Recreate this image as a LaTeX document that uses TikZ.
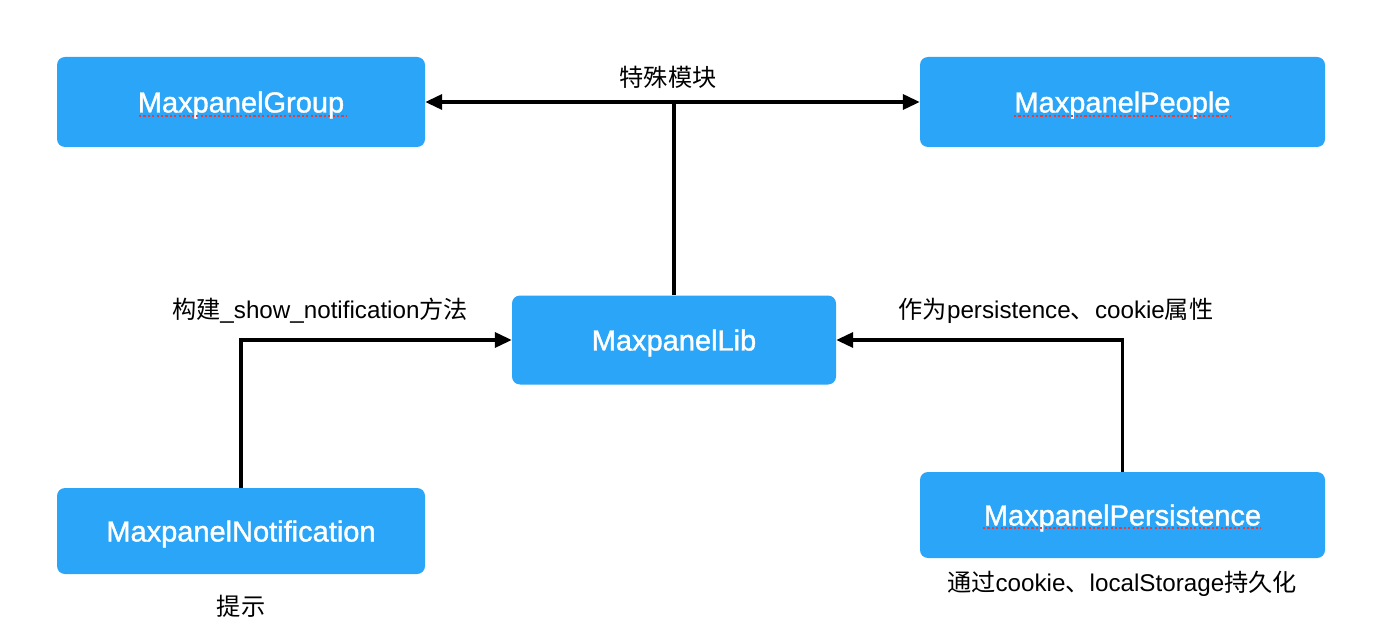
\documentclass[tikz,border=0pt]{standalone}
\usepackage{fontspec}
\setmainfont{Liberation Sans}
\newfontfamily\medfont[FakeBold=1.3]{Liberation Sans}
\newfontfamily\cjk{Noto Sans CJK SC}
\usetikzlibrary{arrows.meta}
\definecolor{boxblue}{RGB}{42,165,247}
\definecolor{spellred}{RGB}{230,60,60}
\tikzset{
  blk/.style={rectangle, rounded corners=8pt, fill=boxblue, draw=none, inner sep=0pt,
    label={[text=white, font=\medfont\fontsize{29}{32}\selectfont, inner sep=0pt, yshift=-3pt]center:#1}},
  lbl/.style={font=\fontsize{24.2}{28}\selectfont, text=black, inner sep=0pt},
  conn/.style={line width=3.5pt, draw=black},
  tip/.style={-{Triangle[length=17pt,width=15pt]}},
  spell/.style={spellred, line width=2pt, dash pattern=on 2.2pt off 2.2pt}
}
\begin{document}
\begin{tikzpicture}[x=1pt,y=-1pt]
\useasboundingbox (0,0) rectangle (1378,644);
\fill[white] (0,0) rectangle (1378,644);
\node[blk=MaxpanelGroup, minimum width=368pt, minimum height=90pt] (grp) at (241,102) {};
\node[blk=MaxpanelPeople, minimum width=405pt, minimum height=90pt] (ppl) at (1122.5,102) {};
\node[blk=MaxpanelLib, minimum width=324pt, minimum height=89pt] (lib) at (674,340) {};
\node[blk=MaxpanelNotification, minimum width=368pt, minimum height=86pt] (ntf) at (241,531) {};
\node[blk=MaxpanelPersistence, minimum width=405pt, minimum height=86pt] (per) at (1122.5,515) {};
% spell-check underlines
\draw[spell] (139,116) -- (346,116);
\draw[spell] (1014,116) -- (1231,116);
\draw[spell] (983,528) -- (1261,528);
% connectors
\draw[conn, tip] (lib.north) -- (lib.north |- grp.east) -- (grp.east);
\draw[conn, tip] (lib.north |- ppl.west) -- (ppl.west);
\draw[conn, tip] (ntf.north) |- (lib.west);
\draw[conn, tip] (per.north) |- (lib.east);
% labels
\node[lbl] (l1) at (668,77) {\cjk 特殊模块};
\node[lbl] (l2) at (320,311) {{\cjk 构建}\_show\_notification{\cjk 方法}};
\node[lbl] (l3) at (1056,311) {{\cjk 作为}persistence{\cjk 、}cookie{\cjk 属性}};
\node[lbl] (l4) at (241,606) {\cjk 提示};
\node[lbl] (l5) at (1122,584) {{\cjk 通过}cookie{\cjk 、}localStorage{\cjk 持久化}};
\end{tikzpicture}
\end{document}
